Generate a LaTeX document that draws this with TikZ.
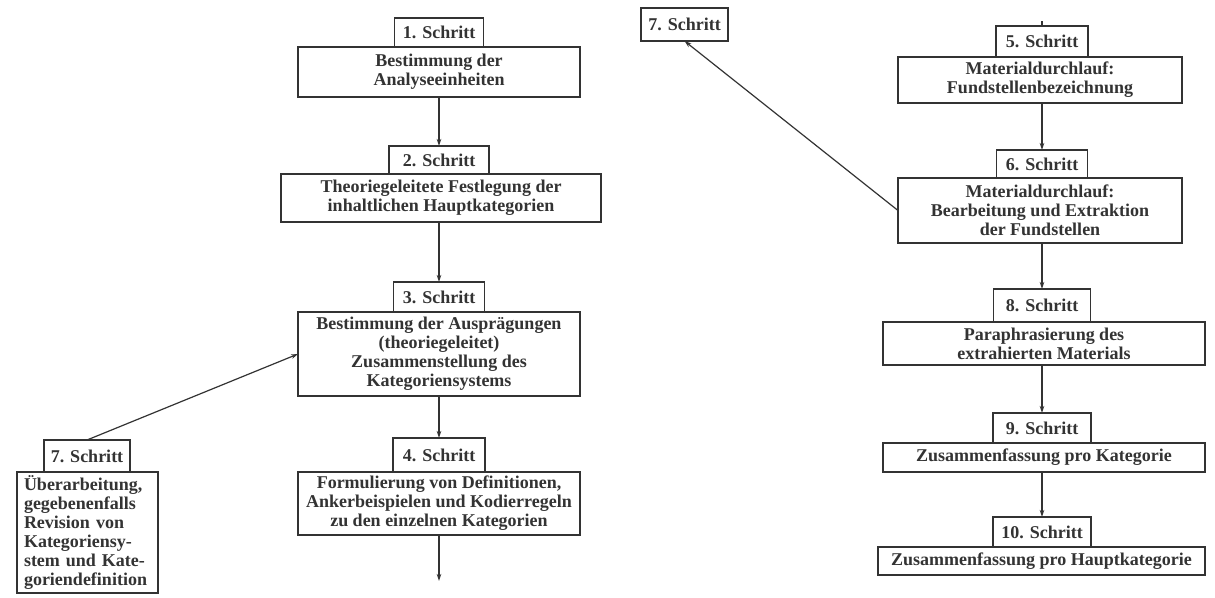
\documentclass[tikz,border=0pt]{standalone}
\usepackage{fontspec}
\setmainfont{Liberation Serif}
\usetikzlibrary{arrows.meta}
\definecolor{ink}{HTML}{333333}
\tikzset{
  boxbase/.style={draw=ink, line width=1.1pt, text=ink, inner sep=0pt, outer sep=0pt,
    font=\bfseries\fontsize{18}{19}\selectfont, align=center, fill=white},
  tabbox/.style={boxbase},
  mainbox/.style={boxbase},
  arr/.style={draw=ink, line width=1.2pt, -{Stealth[length=7pt,width=4.5pt]}},
}
\newcommand{\bx}[7]{% name, style, cx, cy, w, h, text
  \node[#2, minimum width=#5pt, minimum height=#6pt] (#1) at (#3,#4) {#7};}
\begin{document}
\begin{tikzpicture}[x=1pt,y=-1pt]
\useasboundingbox[fill=white] (0,0) rectangle (1215,597);
% left column
\bx{t1}{tabbox}{439}{32.5}{89}{29}{1. Schritt}
\bx{b1}{mainbox}{439}{72}{282}{50}{Bestimmung der\\Analyseeinheiten}
\bx{t2}{tabbox}{439}{160}{100}{28}{2. Schritt}
\bx{b2}{mainbox}{441}{198}{320}{48}{Theoriegeleitete Festlegung der\\inhaltlichen Hauptkategorien}
\bx{t3}{tabbox}{439}{297}{91}{30}{3. Schritt}
\bx{b3}{mainbox}{439}{354}{282}{84}{Bestimmung der Ausprägungen\\(theoriegeleitet)\\Zusammenstellung des\\Kategoriensystems}
\bx{t4}{tabbox}{439}{455}{92}{34}{4. Schritt}
\bx{b4}{mainbox}{439}{503.5}{282}{63}{Formulierung von Definitionen,\\Ankerbeispielen und Kodierregeln\\zu den einzelnen Kategorien}
\coordinate (e4) at (439,581);
\bx{t7a}{tabbox}{87}{456}{86}{32}{7. Schritt}
\node[mainbox, align=left, minimum width=141pt, minimum height=121pt, text width=127pt] (b7a) at (87.5,532.5)
  {Überarbeitung,\\gegebenenfalls\\Revision von\\Kategoriensy-\\stem und Kate-\\goriendefinition};
% right column
\bx{t7b}{tabbox}{684.5}{24.5}{87}{33}{7. Schritt}
\bx{t5}{tabbox}{1042}{41.5}{92}{31}{5. Schritt}
\coordinate (s5) at (1042,21);
\bx{b5}{mainbox}{1040}{80}{284}{46}{Materialdurchlauf:\\Fundstellenbezeichnung}
\bx{t6}{tabbox}{1042}{164}{91}{28}{6. Schritt}
\bx{b6}{mainbox}{1040}{210.5}{284}{65}{Materialdurchlauf:\\Bearbeitung und Extraktion\\der Fundstellen}
\bx{t8}{tabbox}{1042}{305.5}{97}{33}{8. Schritt}
\bx{b8}{mainbox}{1044}{343.5}{322}{43}{Paraphrasierung des\\extrahierten Materials}
\bx{t9}{tabbox}{1042}{428}{98}{30}{9. Schritt}
\bx{b9}{mainbox}{1044}{457.5}{322}{29}{Zusammenfassung pro Kategorie}
\bx{t10}{tabbox}{1042}{532}{98}{30}{10. Schritt}
\bx{b10}{mainbox}{1041.5}{561}{327}{28}{Zusammenfassung pro Hauptkategorie}
% connectors
\draw[arr] (b1.south -| t2.north) -- (t2.north);
\draw[arr] (b2.south -| t3.north) -- (t3.north);
\draw[arr] (b3.south -| t4.north) -- (t4.north);
\draw[arr] (b4.south -| e4) -- (e4);
\draw[arr] (t7a.north) -- (b3.west);
\draw[draw=ink, line width=1.1pt] (t5.north) -- (s5);
\draw[arr] (b5.south -| t6.north) -- (t6.north);
\draw[arr] (b6.south -| t8.north) -- (t8.north);
\draw[arr] (b6.west) -- (t7b.south);
\draw[arr] (b8.south -| t9.north) -- (t9.north);
\draw[arr] (b9.south -| t10.north) -- (t10.north);
\end{tikzpicture}
\end{document}
